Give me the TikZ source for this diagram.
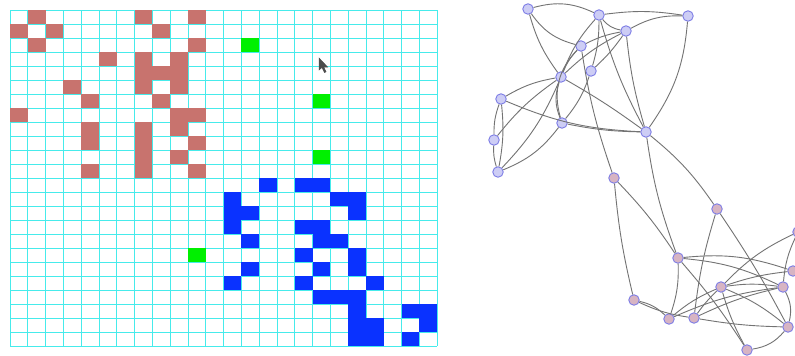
\documentclass[tikz,border=0pt]{standalone}
\usepackage{xcolor}
\usepackage{tikz}
\usetikzlibrary{arrows.meta,positioning,calc}
\definecolor{cellred}{RGB}{200,115,110}
\definecolor{cellblue}{RGB}{10,50,255}
\definecolor{cellgreen}{RGB}{0,240,0}
\definecolor{gridcyan}{RGB}{70,235,235}
\definecolor{vtxfill}{RGB}{205,205,245}
\definecolor{vtxpink}{RGB}{215,180,195}
\definecolor{vtxline}{RGB}{125,125,230}
\newcommand{\cellw}{17.8}
\newcommand{\cellh}{14}

\begin{document}
\begin{tikzpicture}[
    x=1pt, y=-1pt,
    gridline/.style={draw=gridcyan, line width=0.8pt},
    vtxa/.style={circle, draw=vtxline, fill=vtxfill, line width=0.9pt, minimum size=10.5pt, inner sep=0pt},
    vtxb/.style={vtxa, fill=vtxpink},
    link/.style={draw=black!55, line width=0.9pt}
]
\useasboundingbox (0,0) rectangle (795,356);
\fill[white] (0,0) rectangle (795,356);

\foreach \i in {0,...,24} {
  \draw[gridline] ({10+\i*\cellw},10) -- ({10+\i*\cellw},346);
  \draw[gridline] (10,{10+\i*\cellh}) -- (437.2,{10+\i*\cellh});
}
\foreach \c/\r in {1/0,7/0,10/0,0/1,2/1,8/1,1/2,10/2,5/3,7/3,9/3,7/4,8/4,9/4,3/5,7/5,9/5,4/6,8/6,0/7,9/7,10/7,4/8,7/8,9/8,4/9,7/9,10/9,7/10,9/10,4/11,7/11,10/11}
  \fill[cellred] ({10+\c*\cellw},{10+\r*\cellh}) rectangle ++(\cellw,\cellh);
\foreach \c/\r in {14/12,16/12,17/12,12/13,18/13,19/13,12/14,13/14,19/14,12/15,16/15,17/15,13/16,17/16,18/16,16/17,19/17,13/18,17/18,19/18,12/19,16/19,20/19,17/20,18/20,19/20,19/21,22/21,23/21,19/22,20/22,23/22,19/23,20/23,22/23}
  \fill[cellblue] ({10+\c*\cellw},{10+\r*\cellh}) rectangle ++(\cellw,\cellh);
\foreach \c/\r in {13/2,17/6,17/10,10/17}
  \fill[cellgreen] ({10+\c*\cellw},{10+\r*\cellh}) rectangle ++(\cellw,\cellh);

\draw[fill=white, line width=0.5pt, black!70] (319,58) -- (319,70) -- (322,67.5) -- (324.5,72.5) -- (326,71.8) -- (323.6,67) -- (327.5,67) -- cycle;

\node[vtxa] (b1) at (528,9) {};
\node[vtxa] (b2) at (599,15) {};
\node[vtxa] (b3) at (688,16) {};
\node[vtxa] (b4) at (626,31) {};
\node[vtxa] (b5) at (581,46) {};
\node[vtxa] (b6) at (591,71) {};
\node[vtxa] (b7) at (561,77) {};
\node[vtxa] (b8) at (501,99) {};
\node[vtxa] (b9) at (562,123) {};
\node[vtxa] (b10) at (646,132) {};
\node[vtxa] (b11) at (494,140) {};
\node[vtxa] (b12) at (498,172) {};
\node[vtxb] (p1) at (614,178) {};
\node[vtxb] (p2) at (717,209) {};
\node[vtxb] (p3) at (678,258) {};
\node[vtxb] (p4) at (721,287) {};
\node[vtxb] (p5) at (783,287) {};
\node[vtxb] (p6) at (793,271) {};
\node[vtxb] (p7) at (798,232) {};
\node[vtxb] (p8) at (634,300) {};
\node[vtxb] (p9) at (669,319) {};
\node[vtxb] (p10) at (694,318) {};
\node[vtxb] (p11) at (788,327) {};
\node[vtxb] (p12) at (747,350) {};

\draw[link] (b1) to[bend left=20] (b2);
\draw[link] (b1) to[bend right=20] (b5);
\draw[link] (b1) to[bend right=10] (b7);
\draw[link] (b2) to[bend left=8] (b3);
\draw[link] (b2) to[bend right=20] (b4);
\draw[link] (b2) to[bend right=10] (b7);
\draw[link] (b2) to[bend left=8] (b6);
\draw[link] (b2) to[bend right=6] (b10);
\draw[link] (b4) to[bend left=15] (b3);
\draw[link] (b3) to[bend left=15] (b10);
\draw[link] (b4) to[bend right=8] (b5);
\draw[link] (b4) to[bend right=8] (b7);
\draw[link] (b4) to[bend left=6] (b6);
\draw[link] (b4) to[bend right=5] (b10);
\draw[link] (b5) to[bend right=10] (b7);
\draw[link] (b5) to[bend right=30] (b9);
\draw[link] (b5) to[bend right=5] (p1);
\draw[link] (b6) to[bend left=10] (b9);
\draw[link] (b8) to[bend left=10] (b7);
\draw[link] (b7) to[bend left=3] (b10);
\draw[link] (b11) to[bend left=8] (b7);
\draw[link] (b12) to[bend right=10] (b7);
\draw[link] (b7) to[bend right=20] (b9);
\draw[link] (b8) to[bend right=10] (b11);
\draw[link] (b8) to[bend left=8] (b12);
\draw[link] (b8) to[bend right=10] (b10);
\draw[link] (b9) to[bend right=5] (b10);
\draw[link] (b11) to[bend right=10] (b12);
\draw[link] (b12) to[bend right=15] (b9);
\draw[link] (b10) to[bend right=6] (p3);
\draw[link] (b10) to[bend left=8] (p2);
\draw[link] (p1) to[bend left=5] (p3);
\draw[link] (p1) to[bend right=4] (p8);
\draw[link] (p2) to[bend right=5] (p10);
\draw[link] (p2) to[bend left=3] (p11);
\draw[link] (p3) to[bend left=10] (p9);
\draw[link] (p3) to[bend left=10] (p5);
\draw[link] (p3) to[bend left=12] (p6);
\draw[link] (p3) to[bend left=4] (p12);
\draw[link] (p4) to[bend left=10] (p7);
\draw[link] (p4) to[bend left=8] (p5);
\draw[link] (p4) to[bend left=6] (p6);
\draw[link] (p4) to[bend right=8] (p9);
\draw[link] (p4) to[bend right=5] (p10);
\draw[link] (p4) to[bend left=8] (p11);
\draw[link] (p4) to[bend right=6] (p12);
\draw[link] (p8) to[bend left=15] (p9);
\draw[link] (p8) to[bend right=8] (p10);
\draw[link] (p9) to[bend left=8] (p5);
\draw[link] (p10) to[bend right=4] (p11);
\draw[link] (p10) to[bend left=6] (p5);
\draw[link] (p5) to[bend left=20] (p11);
\draw[link] (p7) to[bend right=10] (p5);
\draw[link] (p12) to[bend right=20] (p11);
\end{tikzpicture}
\end{document}
